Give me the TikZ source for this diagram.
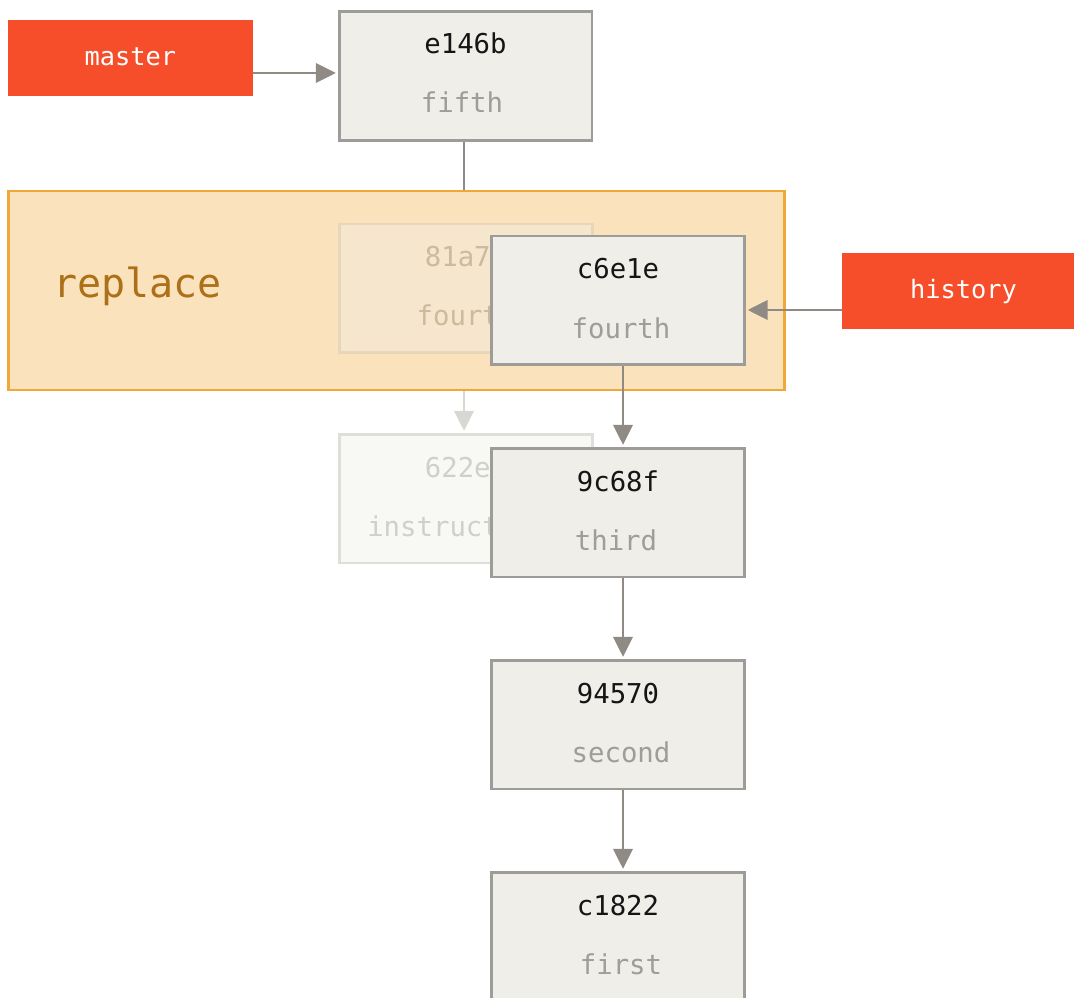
\documentclass[tikz,border=0pt]{standalone}
\usepackage{fontspec}
\setmonofont{DejaVu Sans Mono}
\usetikzlibrary{arrows.meta}
\definecolor{gitred}{HTML}{F64E2A}
\definecolor{boxfill}{HTML}{EFEEE8}
\definecolor{boxline}{HTML}{9D9C98}
\definecolor{arrowc}{HTML}{8F8A83}
\definecolor{hashtext}{HTML}{151515}
\definecolor{msgtext}{HTML}{9E9D99}
\definecolor{repfill}{HTML}{FAE3BC}
\definecolor{repline}{HTML}{EFA936}
\definecolor{reptext}{HTML}{AD7018}
\definecolor{fadefillA}{HTML}{F6E6CE}
\definecolor{fadelineA}{HTML}{E8D6B8}
\definecolor{fadetextA}{HTML}{CDBA9C}
\definecolor{fadefillB}{HTML}{F8F8F5}
\definecolor{fadelineB}{HTML}{DEDEDB}
\definecolor{fadetextB}{HTML}{CFCFCC}
\definecolor{fadearrow}{HTML}{D8D7D3}
\begin{document}
\begin{tikzpicture}[x=0.75pt,y=-0.75pt,
  commit/.style={draw=boxline, fill=boxfill, line width=2pt, minimum width=189.5pt, minimum height=96.5pt, inner sep=0pt},
  fadecommitA/.style={commit, draw=fadelineA, fill=fadefillA},
  fadecommitB/.style={commit, draw=fadelineB, fill=fadefillB},
  hashlbl/.style={font=\ttfamily\fontsize{20.5}{21}\selectfont, text=hashtext, anchor=base, inner sep=0pt},
  msglbl/.style={hashlbl, text=msgtext},
  branch/.style={fill=gitred, minimum width=183.75pt, minimum height=57pt, inner sep=0pt},
  branchlbl/.style={font=\ttfamily\fontsize{19}{20}\selectfont, text=white, anchor=base, inner sep=0pt},
  arr/.style={draw=arrowc, line width=2pt, -{Triangle[length=15pt,width=14.5pt]}, shorten >=1.5pt},
  fadearr/.style={arr, draw=fadearrow}
]
\useasboundingbox (0,0) rectangle (1074,998);
\clip (0,0) rectangle (1074,998);

% hidden commits and their links (partly covered by the replace box)
\node[commit] (e146b) at (465.5,76) {};
\node[fadecommitA] (f81a7) at (466,288.5) {};
\node[fadecommitB] (f622e) at (466,498.5) {};
\draw[arr] (e146b.south -| 464,0) -- (f81a7.north -| 464,0);
\draw[fadearr] (f81a7.south -| 464,0) -- (f622e.north -| 464,0);

% replace region
\node[draw=repline, fill=repfill, line width=2pt, minimum width=582pt, minimum height=149.25pt, inner sep=0pt] (replace) at (396.5,290.5) {};
\node[font=\ttfamily\fontsize{30}{31}\selectfont, text=reptext, anchor=base west, inner sep=0pt] (replacelbl) at (53,298) {replace};

% faded original fourth commit inside the replace box
\node[fadecommitA] (f81a7b) at (466,288.5) {};
\node[hashlbl, text=fadetextA] (f81a7h) at (466,267) {81a70};
\node[msglbl, text=fadetextA] (f81a7m) at (466,326) {fourth};

% faded 622e commit
\node[hashlbl, text=fadetextB] (f622eh) at (466,477) {622e2};
\node[msglbl, text=fadetextB] (f622em) at (466,536) {instructions};

% main commits
\node[hashlbl] (e146bh) at (465.5,54) {e146b};
\node[msglbl] (e146bm) at (462,113) {fifth};

\node[commit] (c6e1e) at (618,300.5) {};
\node[hashlbl] (c6e1eh) at (618,279) {c6e1e};
\node[msglbl] (c6e1em) at (621,339) {fourth};

\node[commit] (c9c68f) at (618,512.5) {};
\node[hashlbl] (c9c68fh) at (618,491) {9c68f};
\node[msglbl] (c9c68fm) at (616,550) {third};

\node[commit] (c94570) at (618,724.5) {};
\node[hashlbl] (c94570h) at (618,703) {94570};
\node[msglbl] (c94570m) at (621,762) {second};

\node[commit] (c1822) at (618,936.5) {};
\node[hashlbl] (c1822h) at (618,915) {c1822};
\node[msglbl] (c1822m) at (621,974) {first};

% branches
\node[branch] (master) at (130.5,58) {};
\node[branchlbl] (masterlbl) at (130.5,66) {master};
\node[branch] (history) at (964.5,291) {};
\node[branchlbl] (historylbl) at (963.5,299) {history};

% connectors
\draw[arr] (master.east |- 0,73) -- (e146b.west |- 0,73);
\draw[arr] (history.west |- 0,310) -- (c6e1e.east |- 0,310);
\draw[arr] (c6e1e.south -| 623,0) -- (c9c68f.north -| 623,0);
\draw[arr] (c9c68f.south -| 623,0) -- (c94570.north -| 623,0);
\draw[arr] (c94570.south -| 623,0) -- (c1822.north -| 623,0);
\end{tikzpicture}
\end{document}
